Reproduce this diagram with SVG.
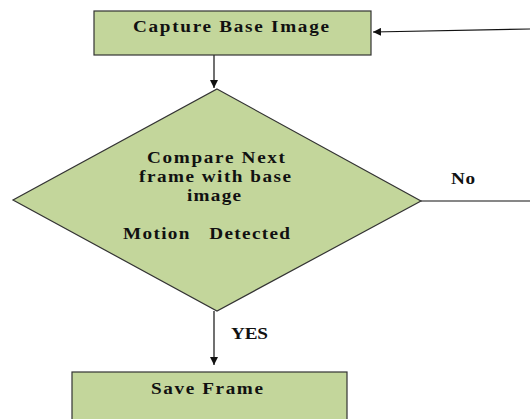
<svg xmlns="http://www.w3.org/2000/svg" width="530" height="419" viewBox="0 0 530 419">
<style>
.n{fill:#c3d69b;stroke:#333;stroke-width:1.2}
.t{font-family:"Liberation Serif","Times New Roman",serif;font-weight:bold;font-size:16px;fill:#111;white-space:pre}
.c{fill:none;stroke:#111;stroke-width:1.2}
</style>
<defs>
<marker id="a" viewBox="0 0 10 10" refX="10" refY="5" markerWidth="8" markerHeight="8" markerUnits="userSpaceOnUse" orient="auto"><path d="M0,0L10,5L0,10z" fill="#111"/></marker>
</defs>
<rect width="530" height="419" fill="#fff"/>
<g id="connectors">
<path class="c" d="M214,55V88" marker-end="url(#a)"/>
<path class="c" d="M530,29L373,32" marker-end="url(#a)"/>
<path class="c" d="M421,201H530"/>
<path class="c" d="M214,311V365" marker-end="url(#a)"/>
<text class="t" transform="translate(231,339) scale(1.2,1)" textLength="30.8" lengthAdjust="spacing">YES</text>
<text class="t" transform="translate(451,184) scale(1.2,1)" textLength="20" lengthAdjust="spacing">No</text>
</g>
<g id="capture">
<rect class="n" x="94" y="11" width="277" height="44"/>
<text class="t" transform="translate(133,32) scale(1.2,1)" textLength="163.3" lengthAdjust="spacing">Capture Base Image</text>
</g>
<g id="compare">
<path class="n" d="M217,89L421,201L217,311L13,200Z"/>
<text class="t" transform="translate(147,163) scale(1.2,1)" textLength="115" lengthAdjust="spacing">Compare Next</text>
<text class="t" transform="translate(139,182) scale(1.2,1)" textLength="126.7" lengthAdjust="spacing">frame with base</text>
<text class="t" transform="translate(187,201) scale(1.2,1)" textLength="45" lengthAdjust="spacing">image</text>
<text class="t" transform="translate(123,239) scale(1.2,1)" textLength="139.2" lengthAdjust="spacing">Motion   Detected</text>
</g>
<g id="save">
<rect class="n" x="72" y="372" width="275" height="60"/>
<text class="t" transform="translate(151,394) scale(1.2,1)" textLength="93.3" lengthAdjust="spacing">Save Frame</text>
</g>
</svg>
